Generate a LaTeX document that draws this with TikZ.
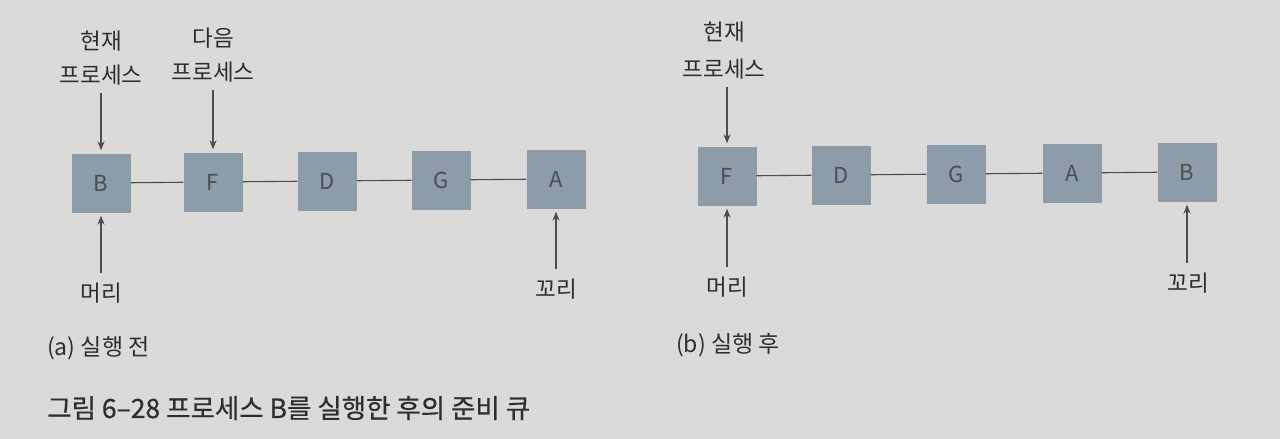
\documentclass[tikz,border=0pt]{standalone}
\usepackage{fontspec}
\setmainfont{Noto Sans CJK KR}
\newfontfamily\capfont[FakeBold=0.6]{Noto Sans CJK KR}
\usetikzlibrary{arrows.meta}
\definecolor{bg}{HTML}{DADAD8}
\definecolor{boxc}{HTML}{8C9CA9}
\definecolor{ink}{HTML}{2E2E2E}
\tikzset{
  qbox/.style={fill=boxc, draw=none, minimum width=59pt, minimum height=59pt, inner sep=0pt, font=\fontsize{22}{22}\selectfont, text=ink!85},
  lbl/.style={font=\fontsize{22.5}{22.5}\selectfont, text=ink, inner sep=0pt},
  link/.style={draw=ink!85, line width=1.1pt},
  ptr/.style={draw=ink!85, line width=1.1pt, -{Stealth[length=9pt,width=7pt]}},
  ptrdown/.style={ptr, shorten <=8pt, shorten >=3pt},
  ptrup/.style={ptr, shorten <=10pt, shorten >=3pt},
  captext/.style={font=\fontsize{23}{23}\selectfont, text=ink, inner sep=0pt, anchor=west}
}
\begin{document}
\begin{tikzpicture}[x=1pt,y=-1pt]
\fill[bg] (0,0) rectangle (1280,439);
\useasboundingbox (0,0) rectangle (1280,439);
% (a)
\node[qbox] (aB) at (101,183) {B};
\node[qbox] (aF) at (213,182) {F};
\node[qbox] (aD) at (327,181) {D};
\node[qbox] (aG) at (441,180) {G};
\node[qbox] (aA) at (556,179) {A};
\draw[link] (aB) -- (aF);
\draw[link] (aF) -- (aD);
\draw[link] (aD) -- (aG);
\draw[link] (aG) -- (aA);
\node[lbl] (acur1) at (101,41) {현재};
\node[lbl] (acur2) at (101,75) {프로세스};
\node[lbl] (anext1) at (213,38) {다음};
\node[lbl] (anext2) at (213,72) {프로세스};
\node[lbl] (ahead) at (101,293) {머리};
\node[lbl] (atail) at (556,289) {꼬리};
\draw[ptrdown] (aB.north |- acur2.south) -- (aB.north);
\draw[ptrdown] (aF.north |- anext2.south) -- (aF.north);
\draw[ptrup] (aB.south |- ahead.north) -- (aB.south);
\draw[ptrup] (aA.south |- atail.north) -- (aA.south);
% (b)
\node[qbox] (bF) at (727,176) {F};
\node[qbox] (bD) at (841,175) {D};
\node[qbox] (bG) at (956,174) {G};
\node[qbox] (bA) at (1072,173) {A};
\node[qbox] (bB) at (1187,172) {B};
\draw[link] (bF) -- (bD);
\draw[link] (bD) -- (bG);
\draw[link] (bG) -- (bA);
\draw[link] (bA) -- (bB);
\node[lbl] (bcur1) at (724,32) {현재};
\node[lbl] (bcur2) at (724,69) {프로세스};
\node[lbl] (bhead) at (727,287) {머리};
\node[lbl] (btail) at (1188,283) {꼬리};
\draw[ptrdown] (bF.north |- bcur2.south) -- (bF.north);
\draw[ptrup] (bF.south |- bhead.north) -- (bF.south);
\draw[ptrup] (bB.south |- btail.north) -- (bB.south);
% captions
\node[captext] (capa) at (47,348) {(a) 실행 전};
\node[captext] (capb) at (676,345) {(b) 실행 후};
\node[captext, font=\capfont\fontsize{26.5}{26.5}\selectfont] (capfig) at (47,408) {그림 6–28 프로세스 B를 실행한 후의 준비 큐};
\end{tikzpicture}
\end{document}
